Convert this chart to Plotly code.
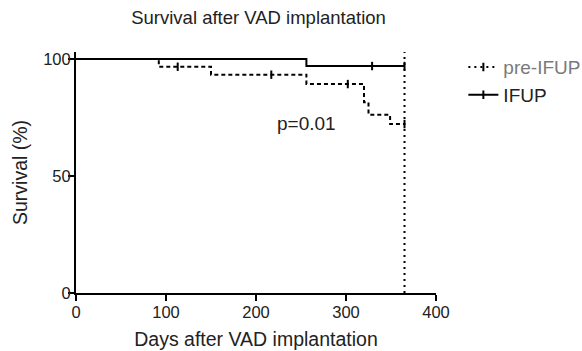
import numpy as np
import plotly.graph_objects as go

# ---- data ----
pre_ifup_event_days = [0, 92, 150, 256, 320, 325, 349, 365]
pre_ifup_survival = [100, 96.7, 93.3, 89.3, 81.5, 76.2, 72.2, 72.2]
pre_ifup_censor_days = [113, 217, 302, 365]

ifup_event_days = [0, 256, 365]
ifup_survival = [100, 97.0, 97.0]
ifup_censor_days = [329, 365]

followup_end_day = 365
x_ticks = [0, 100, 200, 300, 400]
y_ticks = [0, 50, 100]
p_value_text = "p=0.01"
p_value_pos = (256, 72.5)


def step_value(days, surv, t):
    idx = np.searchsorted(np.asarray(days), t, side="right") - 1
    return np.asarray(surv)[idx]


FONT = "Arial, Liberation Sans, sans-serif"
TXT = "#222222"

fig = go.Figure()

series = [
    ("pre-IFUP", pre_ifup_event_days, pre_ifup_survival, pre_ifup_censor_days, "dash", "#7a7a7a"),
    ("IFUP", ifup_event_days, ifup_survival, ifup_censor_days, "solid", TXT),
]

for name, days, surv, cens, dash, lcol in series:
    dashpat = "4px,3px" if dash == "dash" else "solid"
    fig.add_trace(go.Scatter(
        x=days, y=surv, mode="lines", line=dict(shape="hv", color="black", width=2, dash=dashpat),
        showlegend=False, hoverinfo="skip"))
    cy = [step_value(days, surv, c) for c in cens]
    fig.add_trace(go.Scatter(
        x=cens, y=cy, mode="markers",
        marker=dict(symbol="line-ns", size=6, line=dict(width=2, color="black")),
        showlegend=False, hoverinfo="skip", cliponaxis=False))
    # legend entry
    fig.add_trace(go.Scatter(
        x=[None], y=[None], mode="lines+markers",
        name=f"<span style='color:{lcol}'>{name}</span>",
        line=dict(color="black", width=2, dash="2px,4px" if dash == "dash" else "solid"),
        marker=dict(symbol="line-ns", size=6, line=dict(width=2, color="black"))))

fig.add_vline(x=followup_end_day, line=dict(color="black", width=2, dash="2px,4px"))

fig.add_annotation(x=p_value_pos[0], y=p_value_pos[1], text=p_value_text, showarrow=False,
                   font=dict(family=FONT, size=19, color=TXT), xanchor="center", yanchor="middle")

fig.update_layout(
    width=582, height=351,
    margin=dict(l=76, r=146, t=52, b=58, autoexpand=False),
    paper_bgcolor="white", plot_bgcolor="white",
    font=dict(family=FONT, color=TXT),
    title=dict(text="Survival after VAD implantation", x=0.507, xref="paper", xanchor="center",
               y=1 - 18 / 351, yref="container", yanchor="middle",
               font=dict(family=FONT, size=18.5, color=TXT)),
    showlegend=True,
    legend=dict(x=1.076, y=1.016, xanchor="left", yanchor="top", xref="paper", yref="paper",
                font=dict(family=FONT, size=19, color=TXT), bgcolor="rgba(0,0,0,0)",
                itemwidth=30, tracegroupgap=0),
)

fig.update_xaxes(
    range=[0, 400], tickvals=x_ticks, showgrid=False, zeroline=False, automargin=False,
    showline=True, linecolor="black", linewidth=2,
    ticks="outside", ticklen=6, tickwidth=2, tickcolor="black", ticklabelstandoff=-3,
    tickfont=dict(family=FONT, size=16.5, color=TXT),
    title=dict(text="Days after VAD implantation", font=dict(family=FONT, size=19.5, color=TXT), standoff=13),
)
fig.update_yaxes(
    range=[0, 103], tickvals=y_ticks, showgrid=False, zeroline=False, automargin=False,
    showline=True, linecolor="black", linewidth=2,
    ticks="outside", ticklen=6, tickwidth=2, tickcolor="black", ticklabelstandoff=-6,
    tickfont=dict(family=FONT, size=16.5, color=TXT),
    title=dict(text="Survival (%)", font=dict(family=FONT, size=19.5, color=TXT), standoff=10),
)

fig.write_html("out.html", config={"displayModeBar": False},
               post_script="document.body.style.margin='0';")
